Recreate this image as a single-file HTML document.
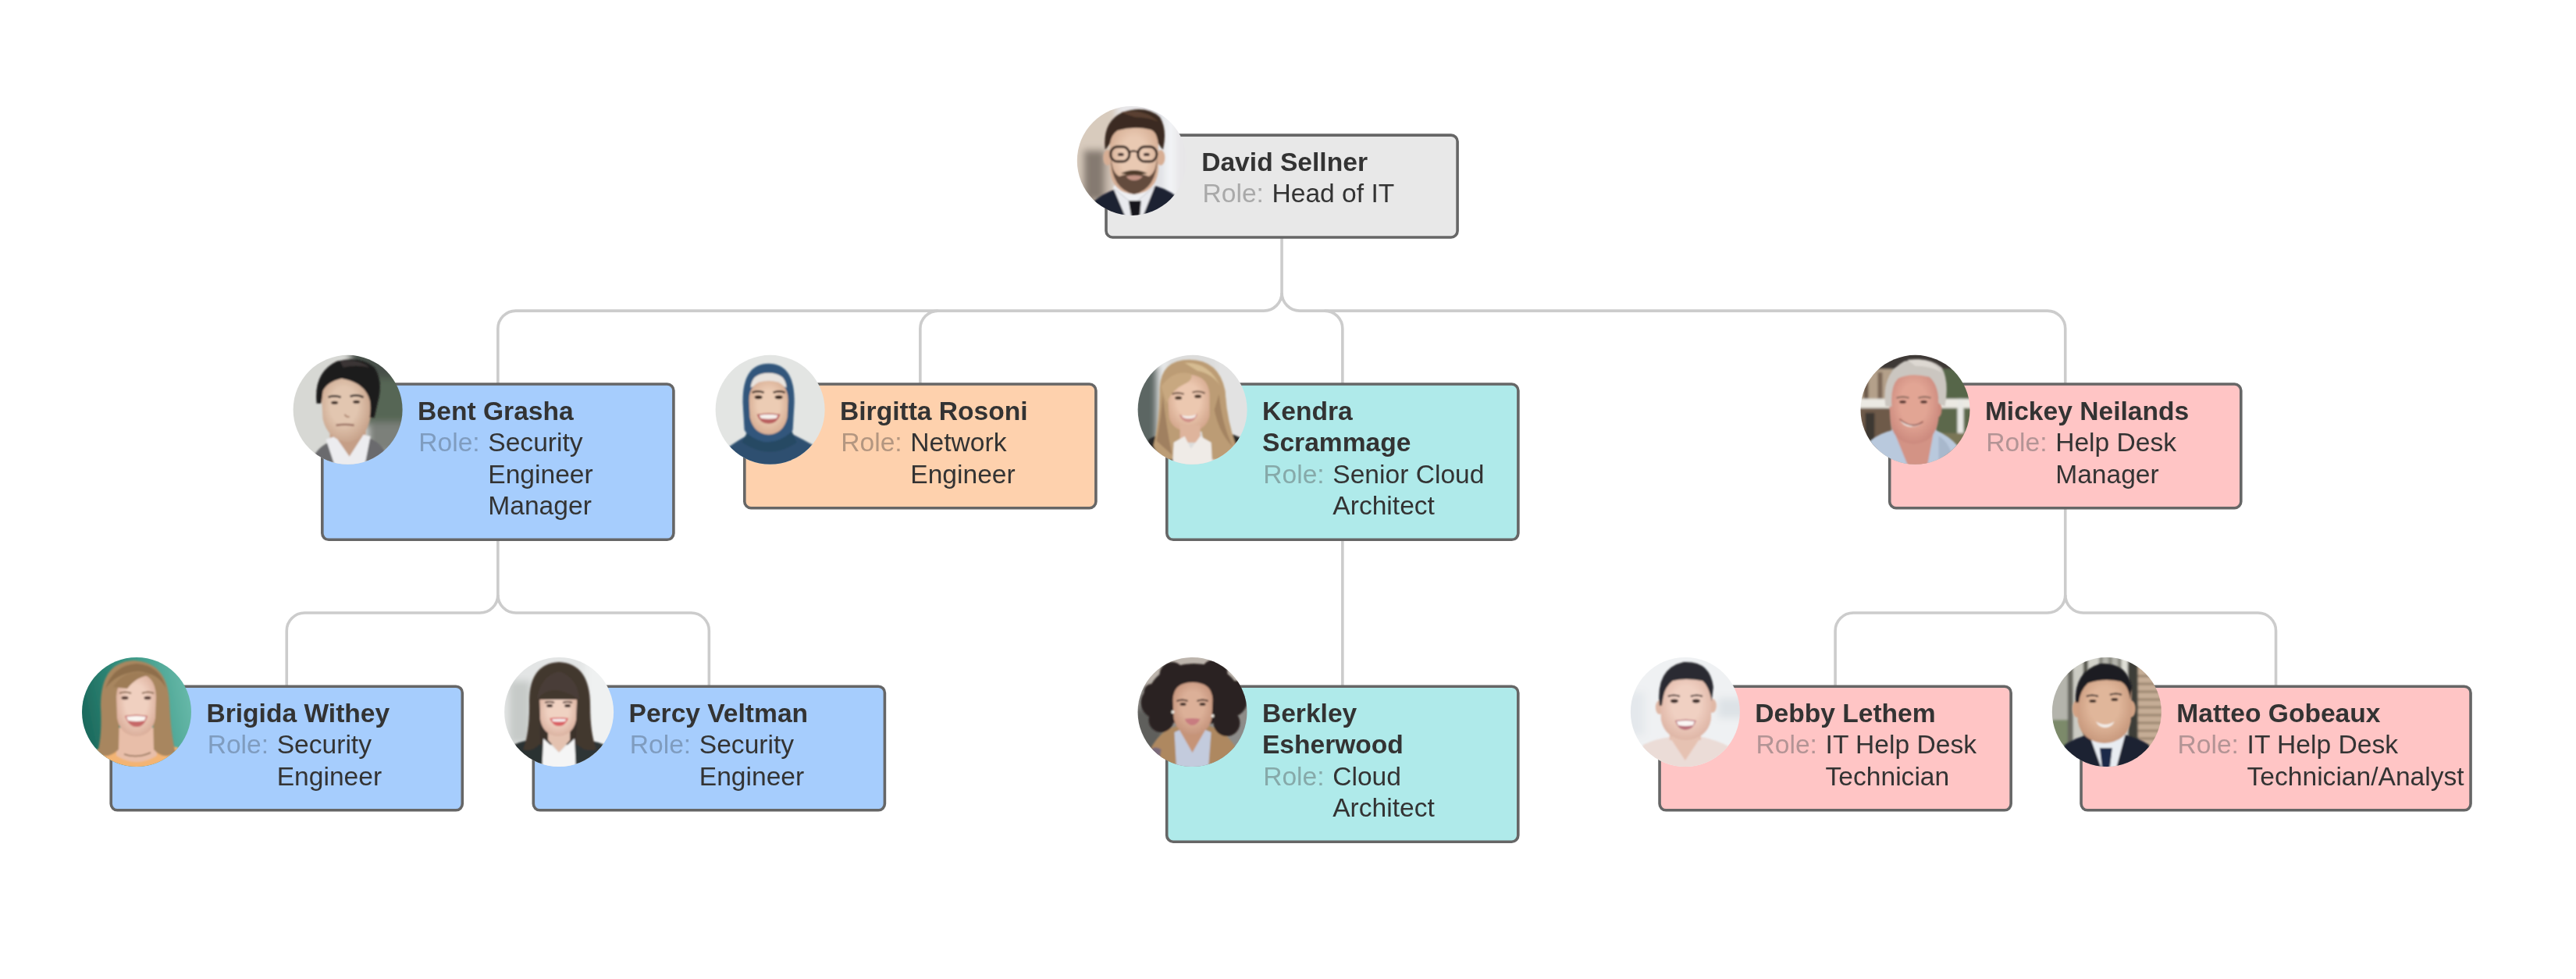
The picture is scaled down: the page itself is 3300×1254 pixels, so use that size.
<!DOCTYPE html>
<html><head><meta charset="utf-8"><title>IT Org Chart</title><style>
html,body{margin:0;padding:0;background:#fff;width:3300px;height:1254px;overflow:hidden;}
body{position:relative;font-family:"Liberation Sans",sans-serif;}
.n{position:absolute;left:0;top:0;}
.n>svg.bx{position:absolute;left:0;top:0;overflow:visible;}
.txt{will-change:transform;position:absolute;left:124px;top:17px;font-size:33.6px;line-height:40.3px;color:#333;white-space:nowrap;}
.nm{font-weight:bold;}
.rl{display:flex;}
.lb{width:89px;padding-left:1.3px;flex:none;}
.av{position:absolute;left:0;top:0;width:140px;height:140px;border-radius:50%;overflow:hidden;}
.av svg{display:block;width:140px;height:140px;}
svg.lines{position:absolute;left:0;top:0;}
</style></head>
<body>
<svg width="0" height="0" style="position:absolute"><filter id="bl" x="-10%" y="-10%" width="120%" height="120%"><feGaussianBlur stdDeviation="1.1"/></filter><filter id="blb" x="-10%" y="-10%" width="120%" height="120%"><feGaussianBlur stdDeviation="5"/></filter><filter id="blm" x="-10%" y="-10%" width="120%" height="120%"><feGaussianBlur stdDeviation="1.6"/></filter></svg>
<svg class="lines" width="3300" height="1254" viewBox="0 0 3300 1254"><g fill="none" stroke="#cccccc" stroke-width="3.6"><path d="M1642.05,305 V375.1"/><path d="M1642.05,375.1 A23,23 0 0 1 1619.05,398.1 H660.85 A23,23 0 0 0 637.85,421.1 V492"/><path d="M1201.85,398.1 A23,23 0 0 0 1178.85,421.1 V492"/><path d="M1642.05,375.1 A23,23 0 0 0 1665.05,398.1 H2622.75 A23,23 0 0 1 2645.75,421.1 V492"/><path d="M1696.85,398.1 A23,23 0 0 1 1719.85,421.1 V492"/><path d="M637.85,691 V762"/><path d="M637.85,762 A23,23 0 0 1 614.85,785 H390.25 A23,23 0 0 0 367.25,808 V879"/><path d="M637.85,762 A23,23 0 0 0 660.85,785 H885.35 A23,23 0 0 1 908.35,808 V879"/><path d="M1719.85,691 V879"/><path d="M2645.75,651 V762"/><path d="M2645.75,762 A23,23 0 0 1 2622.75,785 H2374.1 A23,23 0 0 0 2351.1,808 V879"/><path d="M2645.75,762 A23,23 0 0 0 2668.75,785 H2892.55 A23,23 0 0 1 2915.55,808 V879"/></g></svg>
<div class="n" style="transform:translate(1415.2px,171.3px)"><svg class="bx" width="453.7" height="134.5"><rect x="1.8" y="1.8" width="450.10" height="130.90" rx="8.2" ry="8.2" fill="#e8e8e8" stroke="#666666" stroke-width="3.6"/></svg><div class="txt"><div class="nm">David Sellner</div><div class="rl"><span class="lb" style="color:#a9a9a9">Role:</span><span>Head of IT</span></div></div><div class="av" style="transform:translate(-35.40px,-35.40px)"><svg viewBox="0 0 140 140"><g filter="url(#blb)">
<rect x="-10" y="-10" width="160" height="160" fill="#e7e6e8"/>
<rect x="-10" y="-10" width="60" height="160" fill="#d8cbbd"/>
<rect x="8" y="56" width="28" height="66" fill="#857a71"/>
<rect x="36" y="60" width="12" height="60" fill="#cdbfb2"/>
<rect x="112" y="-10" width="14" height="160" fill="#f3f4f7"/>
<rect x="98" y="-10" width="14" height="160" fill="#dfe0e4"/>
</g><g filter="url(#bl)"><defs><radialGradient id="fd" cx="0.5" cy="0.45" r="0.6"><stop offset="0.45" stop-color="#e9c9b2"/><stop offset="1" stop-color="#d2a88e"/></radialGradient></defs>
<path d="M12 132 Q26 114 50 106 L100 102 Q122 108 136 124 L136 150 L10 150Z" fill="#1f2432"/>
<path d="M46 104 L72 126 L100 102 L92 94 L56 94Z" fill="#eff0f3"/>
<path d="M46 104 L62 142 L84 142 L100 102 L72 126Z" fill="#e9eaee"/>
<path d="M66 121 L82 121 L80 145 L70 145Z" fill="#15171c"/>
<ellipse cx="39" cy="66" rx="5.5" ry="10" fill="#d7ae94"/>
<ellipse cx="107" cy="66" rx="5.5" ry="10" fill="#d7ae94"/>
<path d="M42 46 Q42 24 73 24 Q104 24 104 46 L104 82 Q101 111 73 113 Q45 111 42 82Z" fill="url(#fd)"/>
<path d="M43 66 Q44 106 73 113 Q102 106 103 66 L101 76 Q99 86 92 90 Q82 86 73 86 Q64 86 54 90 Q47 86 45 76Z" fill="#644c3c"/>
<path d="M56 86 Q73 78 90 86 Q82 88 73 87 Q64 88 56 86Z" fill="#4e3a2c"/>
<path d="M63 90 Q73 87 84 90 Q80 95 73 95 Q66 95 63 90Z" fill="#c49486"/>
<path d="M36 56 Q32 20 58 8 Q88 -2 106 14 Q116 30 110 56 L104 48 Q102 32 94 30 Q74 25 52 31 Q44 36 42 48Z" fill="#3b2b22"/>
<path d="M56 8 Q86 2 104 20 Q92 14 74 14Z" fill="#5a4030"/>
<rect x="43" y="52" width="24" height="19" rx="9" fill="none" stroke="#3d2d27" stroke-width="3.2"/>
<rect x="78" y="52" width="24" height="19" rx="9" fill="none" stroke="#3d2d27" stroke-width="3.2"/>
<path d="M67 59 Q72 56 78 59" stroke="#3d2d27" stroke-width="2.5" fill="none"/>
<ellipse cx="56" cy="62" rx="4" ry="2.2" fill="#4a3630"/>
<ellipse cx="89" cy="62" rx="4" ry="2.2" fill="#4a3630"/>
</g></svg></div></div>
<div class="n" style="transform:translate(411px,490.2px)"><svg class="bx" width="453.7" height="202.9"><rect x="1.8" y="1.8" width="450.10" height="199.30" rx="8.2" ry="8.2" fill="#a6cdfd" stroke="#666666" stroke-width="3.6"/></svg><div class="txt"><div class="nm">Bent Grasha</div><div class="rl"><span class="lb" style="color:#7f9cbf">Role:</span><span>Security<br>Engineer<br>Manager</span></div></div><div class="av" style="transform:translate(-35.40px,-35.40px)"><svg viewBox="0 0 140 140"><g filter="url(#blb)">
<rect x="-10" y="-10" width="160" height="160" fill="#d7d8d4"/>
<rect x="88" y="28" width="62" height="62" fill="#566654"/>
<rect x="72" y="-10" width="80" height="40" fill="#465048"/>
<rect x="96" y="86" width="55" height="40" fill="#7c807a"/>
</g><g filter="url(#bl)"><defs><radialGradient id="fb" cx="0.45" cy="0.45" r="0.6"><stop offset="0.45" stop-color="#e2c6b0"/><stop offset="1" stop-color="#c49e86"/></radialGradient></defs>
<path d="M20 142 Q28 120 45 112 L96 106 Q114 112 122 132 L122 150 L20 150Z" fill="#6b6b6d"/>
<path d="M47 92 L93 92 L93 112 L72 132 L47 112Z" fill="#c59e86"/>
<path d="M42 108 L56 150 L90 150 L99 104 L90 102 L72 130 L54 104Z" fill="#ececef"/>
<ellipse cx="100" cy="70" rx="5" ry="10" fill="#cfa68e"/>
<path d="M36 50 Q36 26 68 26 Q100 26 100 50 L99 80 Q94 108 70 112 Q44 108 38 82Z" fill="url(#fb)"/>
<path d="M30 62 Q26 22 56 8 Q86 0 104 16 Q116 34 108 62 L104 80 L98 80 Q101 60 95 50 Q86 34 62 30 Q44 34 38 46 L36 62Z" fill="#1c1a1a"/>
<path d="M60 8 Q84 4 98 16 Q80 12 64 16Z" fill="#3a3634"/>
<path d="M45 54 Q52 51 61 54 M73 53 Q82 50 90 54" stroke="#2a2220" stroke-width="2.5" fill="none"/>
<ellipse cx="53" cy="61" rx="4.5" ry="2" fill="#3a2a24"/>
<ellipse cx="81" cy="60" rx="4.5" ry="2" fill="#3a2a24"/>
<path d="M66 76 Q68 80 72 79" stroke="#b08a74" stroke-width="2" fill="none"/>
<path d="M55 90 Q66 88 78 90" stroke="#9c7264" stroke-width="2.5" fill="none"/>
</g></svg></div></div>
<div class="n" style="transform:translate(952px,490.2px)"><svg class="bx" width="453.7" height="162.3"><rect x="1.8" y="1.8" width="450.10" height="158.70" rx="8.2" ry="8.2" fill="#fed1ad" stroke="#666666" stroke-width="3.6"/></svg><div class="txt"><div class="nm">Birgitta Rosoni</div><div class="rl"><span class="lb" style="color:#b39680">Role:</span><span>Network<br>Engineer</span></div></div><div class="av" style="transform:translate(-35.40px,-35.40px)"><svg viewBox="0 0 140 140"><g filter="url(#blb)">
<rect x="-10" y="-10" width="160" height="160" fill="#e3e5e3"/>
</g><g filter="url(#bl)"><defs><radialGradient id="fg" cx="0.5" cy="0.45" r="0.6"><stop offset="0.45" stop-color="#ecccb4"/><stop offset="1" stop-color="#d4a88e"/></radialGradient></defs>
<path d="M8 150 L14 120 Q30 108 46 100 L96 100 Q112 108 126 116 L132 150Z" fill="#2e506f"/>
<path d="M35 62 Q34 11 68 11 Q102 11 101 62 L99 96 Q92 112 68 114 Q46 112 37 96Z" fill="#31567b"/>
<path d="M40 100 Q68 124 98 98 L104 112 Q70 136 34 112Z" fill="#284864"/>
<path d="M45 42 Q46 23 68 23 Q90 23 91 42 Q80 36 68 36 Q56 36 45 42Z" fill="#e8e3de"/>
<path d="M43 58 Q43 33 68 33 Q93 33 93 58 L92 80 Q87 101 68 102 Q49 101 44 80Z" fill="url(#fg)"/>
<path d="M47 48 Q54 45 62 48 M74 48 Q82 45 89 48" stroke="#2e1e18" stroke-width="2.5" fill="none"/>
<ellipse cx="55" cy="54" rx="5" ry="2.4" fill="#2e1e18"/>
<ellipse cx="81" cy="54" rx="5" ry="2.4" fill="#2e1e18"/>
<path d="M53 76 Q68 73 83 76 Q79 88 68 88 Q57 88 53 76Z" fill="#b95e5e"/>
<path d="M56 77 Q68 75 80 77 L78 81 Q68 83 58 81Z" fill="#f6f0ec"/>
</g></svg></div></div>
<div class="n" style="transform:translate(1493px,490.2px)"><svg class="bx" width="453.7" height="202.9"><rect x="1.8" y="1.8" width="450.10" height="199.30" rx="8.2" ry="8.2" fill="#afeaea" stroke="#666666" stroke-width="3.6"/></svg><div class="txt"><div class="nm">Kendra<br>Scrammage</div><div class="rl"><span class="lb" style="color:#86a9a9">Role:</span><span>Senior Cloud<br>Architect</span></div></div><div class="av" style="transform:translate(-35.40px,-35.40px)"><svg viewBox="0 0 140 140"><g filter="url(#blb)">
<rect x="-10" y="-10" width="160" height="160" fill="#dcdcdb"/>
<rect x="-10" y="12" width="36" height="108" fill="#5c6664"/>
<rect x="26" y="-10" width="10" height="130" fill="#eceeee"/>
<rect x="100" y="-10" width="50" height="160" fill="#e2e2e2"/>
</g><g filter="url(#bl)"><defs><radialGradient id="fk" cx="0.5" cy="0.45" r="0.6"><stop offset="0.45" stop-color="#ecc8b0"/><stop offset="1" stop-color="#d2a48a"/></radialGradient></defs>
<path d="M4 150 L14 108 Q30 98 48 104 L48 150Z" fill="#2b2b2b"/>
<path d="M108 96 L132 106 L136 150 L106 150Z" fill="#2b2b2b"/>
<path d="M28 42 Q30 6 66 6 Q104 6 112 46 Q114 84 126 116 Q112 140 88 132 L82 98 L56 98 L52 132 Q28 140 20 116 Q28 84 28 42Z" fill="#bc9c74"/>
<path d="M24 110 Q30 80 32 50 Q36 90 44 128Z" fill="#a08060"/>
<path d="M104 50 Q108 90 122 118 Q104 100 98 70Z" fill="#a48462"/>
<path d="M60 10 Q90 8 106 40 Q96 24 76 20Z" fill="#d6bc92"/>
<path d="M38 48 Q40 25 65 25 Q90 26 92 50 L92 78 Q88 97 66 98 Q44 97 40 80Z" fill="url(#fk)"/>
<rect x="54" y="90" width="26" height="22" fill="#deb49c"/>
<path d="M46 112 L60 104 L68 120 L80 104 L94 112 L96 150 L44 150Z" fill="#efebe7"/>
<path d="M30 40 Q46 18 68 24 Q72 32 58 38 Q44 44 37 62Z" fill="#c8a880"/>
<path d="M44 50 Q51 47 59 50 M70 48 Q78 45 86 49" stroke="#6a5040" stroke-width="2.2" fill="none"/>
<ellipse cx="52" cy="55" rx="4.5" ry="2.2" fill="#4a3428"/>
<ellipse cx="77" cy="53" rx="4.5" ry="2.2" fill="#4a3428"/>
<path d="M53 76 Q66 82 77 75 Q73 86 64 86 Q56 85 53 76Z" fill="#d09088"/>
<path d="M56 77 Q66 80 75 76 L73 80 Q65 83 58 80Z" fill="#f4ece8"/>
</g></svg></div></div>
<div class="n" style="transform:translate(2418.9px,490.2px)"><svg class="bx" width="453.7" height="162.3"><rect x="1.8" y="1.8" width="450.10" height="158.70" rx="8.2" ry="8.2" fill="#ffc5c5" stroke="#666666" stroke-width="3.6"/></svg><div class="txt"><div class="nm">Mickey Neilands</div><div class="rl"><span class="lb" style="color:#b39495">Role:</span><span>Help Desk<br>Manager</span></div></div><div class="av" style="transform:translate(-35.40px,-35.40px)"><svg viewBox="0 0 140 140"><g filter="url(#blm)">
<rect x="-10" y="-10" width="160" height="160" fill="#b3aa9c"/>
<rect x="-10" y="-10" width="160" height="28" fill="#3e3834"/>
<rect x="-10" y="18" width="50" height="38" fill="#b4a08a"/>
<rect x="4" y="22" width="6" height="34" fill="#6a5848"/>
<rect x="22" y="22" width="6" height="34" fill="#7a6656"/>
<rect x="-10" y="56" width="160" height="12" fill="#ebe9e3"/>
<rect x="-10" y="68" width="50" height="52" fill="#6e5a48"/>
<rect x="6" y="74" width="12" height="42" fill="#3e3832"/>
<rect x="96" y="18" width="54" height="38" fill="#56664a"/>
<rect x="96" y="68" width="54" height="52" fill="#5b684c"/>
<rect x="124" y="56" width="8" height="64" fill="#e8e8e4"/>
<rect x="96" y="100" width="54" height="30" fill="#7a7656"/>
</g><g filter="url(#bl)"><defs><radialGradient id="fm" cx="0.5" cy="0.45" r="0.6"><stop offset="0.45" stop-color="#e2a594"/><stop offset="1" stop-color="#c8857a"/></radialGradient></defs>
<path d="M6 150 L12 110 Q24 100 42 96 L96 96 Q114 104 124 116 L128 150Z" fill="#b9c9dd"/>
<path d="M100 104 Q112 110 118 130 L112 150 L100 150Z" fill="#a8b8cc"/>
<path d="M42 96 L64 150 L84 150 L94 96Z" fill="#d39385"/>
<ellipse cx="99" cy="70" rx="5" ry="10" fill="#cc8a7c"/>
<path d="M36 50 Q36 20 68 20 Q100 20 100 50 L100 82 Q96 112 68 114 Q40 112 38 82Z" fill="url(#fm)"/>
<path d="M32 66 Q26 24 56 8 Q86 0 104 16 Q114 34 108 66 L100 62 Q100 38 88 28 Q64 22 48 30 Q38 40 40 66Z" fill="#cbc6c0"/>
<path d="M60 6 Q90 2 104 22 Q90 14 70 14Z" fill="#ddd8d2"/>
<path d="M46 55 Q54 52 62 55 M74 55 Q82 52 90 55" stroke="#8a6a5e" stroke-width="2.2" fill="none"/>
<ellipse cx="54" cy="60" rx="4.5" ry="2" fill="#5a3a34"/>
<ellipse cx="81" cy="60" rx="4.5" ry="2" fill="#5a3a34"/>
<path d="M50 82 Q66 94 80 85 Q76 92 64 92 Q54 91 50 82Z" fill="#f0e6e0"/>
<path d="M50 82 Q66 96 80 85" stroke="#8a4a44" stroke-width="1.5" fill="none"/>
</g></svg></div></div>
<div class="n" style="transform:translate(140.4px,877.4px)"><svg class="bx" width="453.7" height="162.2"><rect x="1.8" y="1.8" width="450.10" height="158.60" rx="8.2" ry="8.2" fill="#a6cdfd" stroke="#666666" stroke-width="3.6"/></svg><div class="txt"><div class="nm">Brigida Withey</div><div class="rl"><span class="lb" style="color:#7f9cbf">Role:</span><span>Security<br>Engineer</span></div></div><div class="av" style="transform:translate(-35.40px,-35.40px)"><svg viewBox="0 0 140 140"><g filter="url(#blb)">
<defs><linearGradient id="gbr" x1="0" y1="0.2" x2="1" y2="0"><stop offset="0" stop-color="#1b695c"/><stop offset="0.45" stop-color="#3a9785"/><stop offset="1" stop-color="#76c4b5"/></linearGradient></defs>
<rect x="-10" y="-10" width="160" height="160" fill="url(#gbr)"/>
</g><g filter="url(#bl)"><defs><radialGradient id="fbr" cx="0.5" cy="0.45" r="0.6"><stop offset="0.45" stop-color="#f0d0c0"/><stop offset="1" stop-color="#d8aa96"/></radialGradient></defs>
<path d="M6 150 L16 120 Q30 112 48 118 L92 118 Q112 110 130 118 L134 150Z" fill="#f3b473"/>
<path d="M46 90 L94 90 L96 126 Q70 142 44 126Z" fill="#e8bea9"/>
<path d="M54 124 Q70 130 88 122" stroke="#8a6a50" stroke-width="1.5" fill="none"/>
<path d="M24 62 Q24 6 66 4 Q110 6 112 58 Q114 100 120 122 Q104 132 92 118 L91 70 L48 70 L47 118 Q32 132 20 122 Q26 100 24 62Z" fill="#a8865f"/>
<path d="M30 40 Q40 10 70 8 Q100 10 108 40 Q98 20 72 18 Q44 20 30 40Z" fill="#8e6e4c"/>
<path d="M44 50 Q46 21 70 21 Q94 21 95 50 L94 78 Q90 100 70 101 Q49 100 45 78Z" fill="url(#fbr)"/>
<path d="M40 38 Q56 12 90 22 Q70 24 58 40 Z" fill="#9e7c56"/>
<path d="M48 46 Q55 43 63 46 M77 46 Q85 43 92 46" stroke="#8a6a52" stroke-width="2.2" fill="none"/>
<ellipse cx="55" cy="52" rx="4.5" ry="2.2" fill="#5a4038"/>
<ellipse cx="84" cy="52" rx="4.5" ry="2.2" fill="#5a4038"/>
<path d="M55 75 Q70 72 84 75 Q80 89 70 89 Q60 89 55 75Z" fill="#c66868"/>
<path d="M57 76 Q70 74 82 76 L80 81 Q70 83 59 81Z" fill="#faf6f2"/>
</g></svg></div></div>
<div class="n" style="transform:translate(681.5px,877.4px)"><svg class="bx" width="453.7" height="162.2"><rect x="1.8" y="1.8" width="450.10" height="158.60" rx="8.2" ry="8.2" fill="#a6cdfd" stroke="#666666" stroke-width="3.6"/></svg><div class="txt"><div class="nm">Percy Veltman</div><div class="rl"><span class="lb" style="color:#7f9cbf">Role:</span><span>Security<br>Engineer</span></div></div><div class="av" style="transform:translate(-35.40px,-35.40px)"><svg viewBox="0 0 140 140"><g filter="url(#blb)">
<rect x="-10" y="-10" width="160" height="160" fill="#e3e5e5"/>
<rect x="6" y="30" width="28" height="80" fill="#c6cac8"/>
<rect x="104" y="-10" width="46" height="160" fill="#eff1f1"/>
</g><g filter="url(#bl)"><defs><radialGradient id="fp" cx="0.5" cy="0.45" r="0.6"><stop offset="0.45" stop-color="#f0d2c2"/><stop offset="1" stop-color="#d8ae9c"/></radialGradient></defs>
<path d="M6 150 L12 112 Q28 104 54 106 L54 150Z" fill="#2b3131"/>
<path d="M88 108 Q112 104 128 112 L134 150 L86 150Z" fill="#2f3636"/>
<rect x="40" y="50" width="58" height="62" fill="#3a302c"/>
<path d="M56 88 L84 88 L84 106 L70 122 L56 106Z" fill="#e4c2b0"/>
<path d="M50 104 L70 122 L90 104 L92 150 L48 150Z" fill="#f5f5f5"/>
<path d="M45 56 Q46 42 69 42 Q92 42 93 56 L92 80 Q88 100 69 101 Q50 100 46 80Z" fill="url(#fp)"/>
<path d="M32 62 Q30 8 70 6 Q110 8 110 62 Q110 98 118 118 Q102 122 92 110 L93 54 L45 54 L46 110 Q36 122 24 118 Q32 98 32 62Z" fill="#43372f"/>
<path d="M42 54 Q60 30 96 54 Q94 26 70 18 Q46 24 42 54Z" fill="#4a3e38"/>
<path d="M52 58 Q58 56 64 58 M75 58 Q81 56 87 58" stroke="#4a3430" stroke-width="2" fill="none"/>
<ellipse cx="58" cy="62" rx="4" ry="2" fill="#3a2a28"/>
<ellipse cx="81" cy="62" rx="4" ry="2" fill="#3a2a28"/>
<path d="M58 78 Q70 76 82 78 Q78 88 70 88 Q62 88 58 78Z" fill="#d95f62"/>
<path d="M61 79 Q70 78 79 79 L78 82 Q70 83 62 82Z" fill="#f6eeee"/>
</g></svg></div></div>
<div class="n" style="transform:translate(1492.9px,877.4px)"><svg class="bx" width="453.7" height="202.6"><rect x="1.8" y="1.8" width="450.10" height="199.00" rx="8.2" ry="8.2" fill="#afeaea" stroke="#666666" stroke-width="3.6"/></svg><div class="txt"><div class="nm">Berkley<br>Esherwood</div><div class="rl"><span class="lb" style="color:#86a9a9">Role:</span><span>Cloud<br>Architect</span></div></div><div class="av" style="transform:translate(-35.40px,-35.40px)"><svg viewBox="0 0 140 140"><g filter="url(#blb)">
<rect x="-10" y="-10" width="160" height="160" fill="#8f8c88"/>
<rect x="-10" y="-10" width="160" height="46" fill="#bdb5ad"/>
<rect x="-10" y="64" width="44" height="66" fill="#5e5e5c"/>
<rect x="104" y="84" width="46" height="40" fill="#8c8c8a"/>
</g><g filter="url(#bl)"><defs><radialGradient id="fbe" cx="0.5" cy="0.45" r="0.6"><stop offset="0.45" stop-color="#dcb098"/><stop offset="1" stop-color="#c29078"/></radialGradient></defs>
<path d="M8 150 L16 118 Q28 94 50 88 L92 88 Q114 96 126 116 L132 150Z" fill="#ae8860"/>
<path d="M14 120 Q22 112 30 118 L26 142Z" fill="#7a6a7a"/>
<path d="M47 96 L60 90 L70 122 L80 90 L94 96 L90 150 L50 150Z" fill="#c3cbdd"/>
<path d="M54 80 L86 80 L86 94 L70 122 L54 94Z" fill="#c69478"/>
<g fill="#2c2422">
<ellipse cx="72" cy="48" rx="58" ry="40"/>
<circle cx="24" cy="58" r="20"/><circle cx="120" cy="56" r="20"/>
<circle cx="30" cy="80" r="16"/><circle cx="114" cy="84" r="17"/>
<circle cx="44" cy="22" r="16"/><circle cx="98" cy="20" r="17"/>
<circle cx="18" cy="44" r="10"/><circle cx="126" cy="40" r="10"/>
</g>
<path d="M45 54 Q46 32 70 32 Q95 32 96 54 L95 78 Q91 98 70 99 Q50 98 46 78Z" fill="url(#fbe)"/>
<path d="M50 56 Q57 53 64 56 M76 56 Q83 53 90 56" stroke="#3a2620" stroke-width="2" fill="none"/>
<ellipse cx="58" cy="60" rx="4" ry="2" fill="#3a2a24"/>
<ellipse cx="83" cy="60" rx="4" ry="2" fill="#3a2a24"/>
<circle cx="45" cy="70" r="2" fill="#f0ece4"/>
<circle cx="96" cy="75" r="2" fill="#f0ece4"/>
<path d="M60 79 Q70 77 80 79 Q76 87 70 87 Q64 87 60 79Z" fill="#c87c80"/>
</g></svg></div></div>
<div class="n" style="transform:translate(2124.25px,877.4px)"><svg class="bx" width="453.7" height="162.2"><rect x="1.8" y="1.8" width="450.10" height="158.60" rx="8.2" ry="8.2" fill="#ffc5c5" stroke="#666666" stroke-width="3.6"/></svg><div class="txt"><div class="nm">Debby Lethem</div><div class="rl"><span class="lb" style="color:#b39495">Role:</span><span>IT Help Desk<br>Technician</span></div></div><div class="av" style="transform:translate(-35.40px,-35.40px)"><svg viewBox="0 0 140 140"><g filter="url(#blb)">
<rect x="-10" y="-10" width="160" height="160" fill="#eff1f3"/>
<rect x="112" y="52" width="40" height="26" fill="#dde2e6"/>
<rect x="-10" y="44" width="28" height="56" fill="#e4e8ec"/>
</g><g filter="url(#bl)"><defs><radialGradient id="fde" cx="0.5" cy="0.45" r="0.6"><stop offset="0.45" stop-color="#f0d0c2"/><stop offset="1" stop-color="#dcb2a2"/></radialGradient></defs>
<path d="M10 150 L16 112 Q34 104 50 102 L92 102 Q110 106 126 114 L130 150Z" fill="#ebdcd7"/>
<rect x="50" y="88" width="40" height="18" fill="#e3beae"/>
<path d="M50 102 L70 132 L90 102Z" fill="#e6c2b2"/>
<ellipse cx="37" cy="64" rx="5" ry="9" fill="#e0b8a6"/>
<ellipse cx="105" cy="62" rx="5" ry="9" fill="#e0b8a6"/>
<path d="M38 48 Q38 22 71 22 Q104 22 104 48 L103 80 Q98 104 71 106 Q44 104 39 80Z" fill="url(#fde)"/>
<path d="M37 62 Q32 14 68 6 Q102 4 106 38 L104 56 Q100 36 92 30 Q70 26 54 30 Q44 38 42 50 L40 62Z" fill="#2a2c30"/>
<path d="M48 50 Q55 47 63 50 M77 50 Q85 47 92 50" stroke="#3a2a28" stroke-width="2.2" fill="none"/>
<ellipse cx="56" cy="56" rx="5" ry="2.4" fill="#3a2a28"/>
<ellipse cx="84" cy="56" rx="5" ry="2.4" fill="#3a2a28"/>
<path d="M57 81 Q71 78 84 81 Q80 93 70 93 Q61 93 57 81Z" fill="#b9707a"/>
<path d="M59 82 Q71 80 82 82 L80 87 Q70 89 61 87Z" fill="#faf6f4"/>
</g></svg></div></div>
<div class="n" style="transform:translate(2664.25px,877.4px)"><svg class="bx" width="502.6" height="162.2"><rect x="1.8" y="1.8" width="499.00" height="158.60" rx="8.2" ry="8.2" fill="#ffc5c5" stroke="#666666" stroke-width="3.6"/></svg><div class="txt"><div class="nm">Matteo Gobeaux</div><div class="rl"><span class="lb" style="color:#b39495">Role:</span><span>IT Help Desk<br>Technician/Analyst</span></div></div><div class="av" style="transform:translate(-35.40px,-35.40px)"><svg viewBox="0 0 140 140"><g filter="url(#blm)">
<rect x="-10" y="-10" width="160" height="160" fill="#b4b4ac"/>
<rect x="-10" y="80" width="40" height="40" fill="#7c8a6a"/>
<rect x="20" y="-10" width="7" height="130" fill="#66665e"/>
<rect x="27" y="-10" width="13" height="130" fill="#cbcbc3"/>
<rect x="40" y="-10" width="6" height="130" fill="#58584f"/>
<rect x="46" y="-10" width="14" height="130" fill="#d2d2ca"/>
<rect x="60" y="-10" width="5" height="40" fill="#8a8a82"/>
<rect x="72" y="-10" width="5" height="40" fill="#8a8a82"/>
<rect x="84" y="-10" width="5" height="40" fill="#8a8a82"/>
<rect x="89" y="-10" width="8" height="130" fill="#deded6"/>
<rect x="97" y="-10" width="13" height="140" fill="#3c3c38"/>
<rect x="110" y="-10" width="40" height="160" fill="#c6ae96"/>
<path d="M110 24 H150 M110 34 H150 M110 44 H150 M110 54 H150 M110 64 H150 M110 74 H150 M110 84 H150 M110 94 H150 M110 104 H150" stroke="#8e7a66" stroke-width="2.5"/>
</g><g filter="url(#bl)"><defs><radialGradient id="fma" cx="0.5" cy="0.45" r="0.6"><stop offset="0.45" stop-color="#e0b69a"/><stop offset="1" stop-color="#c49478"/></radialGradient></defs>
<path d="M10 150 L16 112 Q32 102 50 98 L90 98 Q112 104 124 112 L130 150Z" fill="#1f2331"/>
<rect x="50" y="86" width="38" height="16" fill="#c89878"/>
<path d="M48 100 L66 150 L80 150 L94 98 L86 94 L56 94Z" fill="#e8ecf2"/>
<path d="M61 116 L77 116 L73 150 L65 150Z" fill="#1e2a4a"/>
<ellipse cx="32" cy="66" rx="6" ry="11" fill="#d2a284"/>
<ellipse cx="101" cy="66" rx="6" ry="11" fill="#d2a284"/>
<path d="M32 46 Q32 22 67 22 Q102 22 102 46 L101 82 Q96 108 67 110 Q38 108 33 82Z" fill="url(#fma)"/>
<path d="M30 58 Q28 18 62 8 Q96 6 102 38 L100 54 Q98 36 88 31 Q66 26 46 33 Q36 42 34 58Z" fill="#1e1e20"/>
<path d="M44 50 Q51 47 59 50 M74 48 Q82 45 89 48" stroke="#2a2220" stroke-width="2.2" fill="none"/>
<ellipse cx="52" cy="56" rx="4.5" ry="2" fill="#3a2a24"/>
<ellipse cx="80" cy="54" rx="4.5" ry="2" fill="#3a2a24"/>
<path d="M56 82 Q68 90 80 82 Q76 90 68 90 Q60 90 56 82Z" fill="#f2ece8"/>
</g></svg></div></div>
</body></html>
